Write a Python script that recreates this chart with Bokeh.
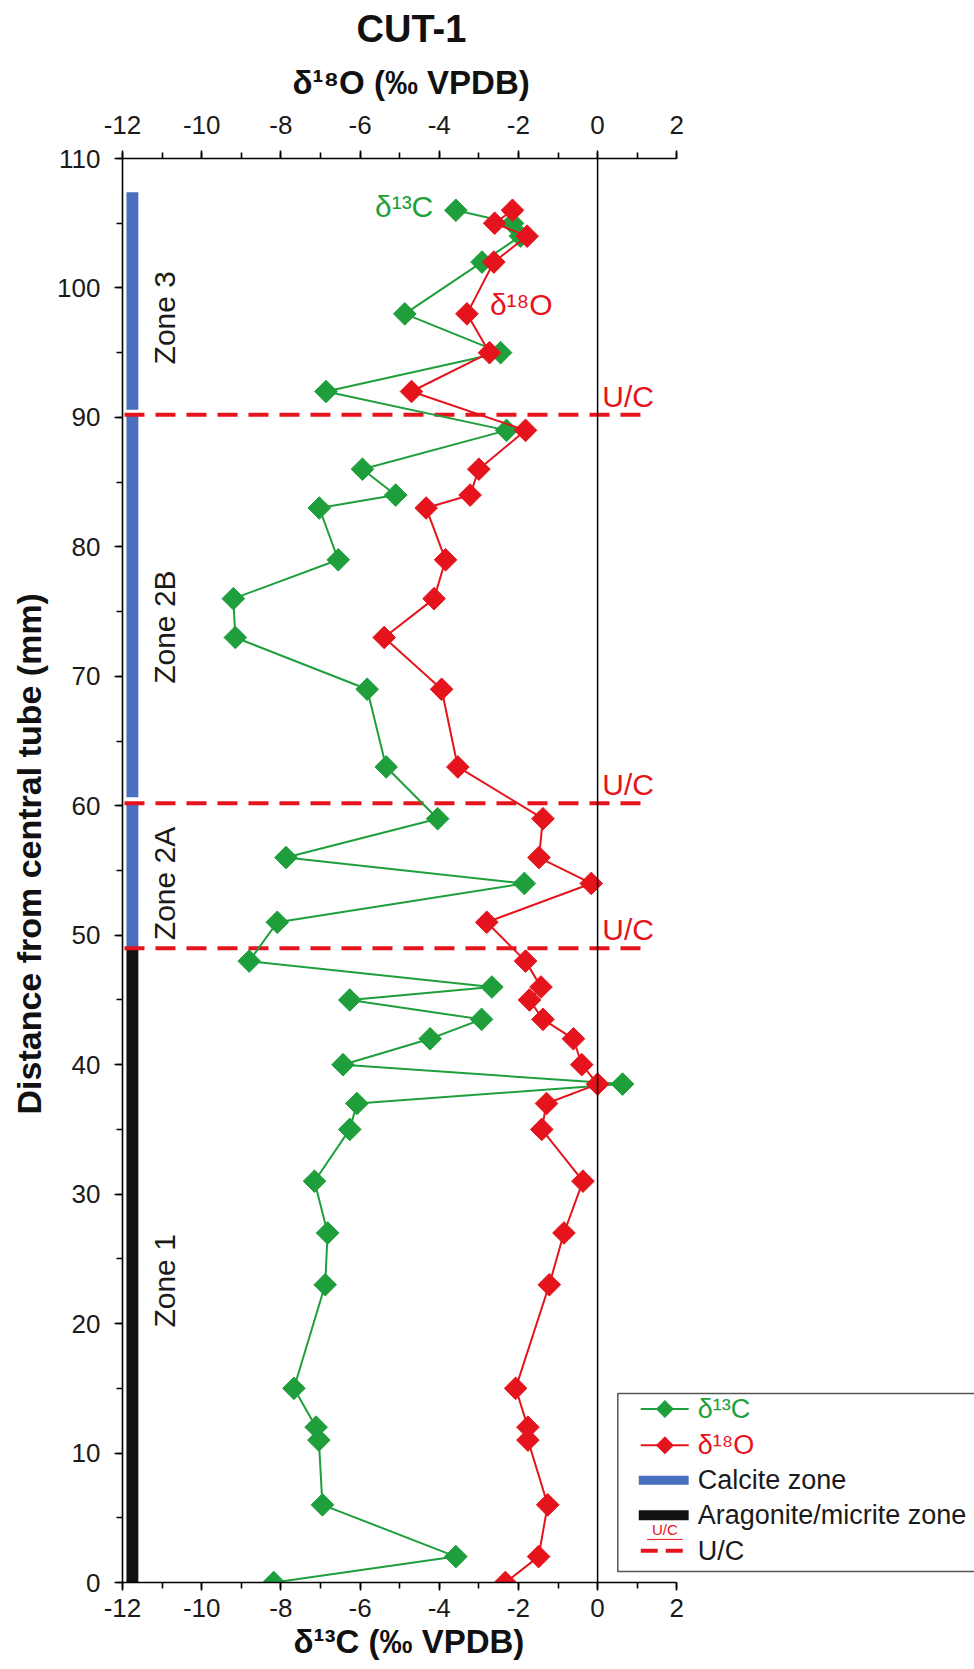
import numpy as np
from bokeh.plotting import figure
from bokeh.models import (ColumnDataSource, LinearAxis, Range1d, SingleIntervalTicker, Span,
                          Title, PrintfTickFormatter)
from bokeh.core.properties import value
from bokeh.embed import file_html
from bokeh.resources import INLINE

# ---------------- data ----------------
depth = [106, 105, 104, 102, 98, 95, 92, 89, 86, 84, 83, 79, 76, 73, 69, 63, 59, 56, 54, 51,
         48, 46, 45, 43.5, 42, 40, 38.5, 37, 35, 31, 27, 23, 15, 12, 11, 6, 2, 0]
d13c = [-3.58, -2.15, -1.95, -2.92, -4.87, -2.45, -6.86, -2.30, -5.94, -5.10,
        -7.03, -6.55, -9.20, -9.15, -5.82, -5.34, -4.04, -7.87, -1.85, -8.09,
        -8.80, -2.67, -6.26, -2.93, -4.23, -6.43, 0.63, -6.08, -6.26, -7.15,
        -6.82, -6.88, -7.67, -7.11, -7.04, -6.95, -3.58, -8.18]
d18o = [-2.15, -2.60, -1.78, -2.62, -3.30, -2.73, -4.70, -1.82, -3.00, -3.22,
        -4.33, -3.84, -4.13, -5.39, -3.94, -3.53, -1.38, -1.48, -0.16, -2.80,
        -1.82, -1.43, -1.72, -1.38, -0.61, -0.40, 0.00, -1.29, -1.41, -0.37,
        -0.85, -1.22, -2.07, -1.76, -1.76, -1.26, -1.49, -2.33]

# mineralogy bar segments (depth, mm)
bar_bottom = [0, 49.0, 60.65, 90.6]
bar_top = [49.0, 60.3, 90.3, 107.4]
bar_kind = ["aragonite", "calcite", "calcite", "calcite"]

# unconformities (depth, mm)
uc_depth = [90.2, 60.2, 49.0]

# zone names and their mid depths
zone_names = ["Zone 3", "Zone 2B", "Zone 2A", "Zone 1"]
zone_mid = [97.7, 73.8, 54.0, 23.3]

x_ticks_start, x_ticks_end = -12, 2
y_start, y_end = 0, 110

# ---------------- style ----------------
GREEN = "#1e9f3c"
RED = "#e5141c"
BLUE = "#4a6fbf"
BLACK = "#111111"
FONT = "Liberation Sans"
kind_color = {"aragonite": BLACK, "calcite": BLUE}

W, H = 974, 1669
X_END = 9.52

p = figure(width=W, height=H, x_range=Range1d(x_ticks_start, X_END), y_range=Range1d(y_start, y_end),
           output_backend="svg", toolbar_location=None, title=None,
           x_axis_location=None, y_axis_location=None,
           min_border_left=122, min_border_right=0, min_border_top=158, min_border_bottom=87)
p.outline_line_color = None
p.xgrid.grid_line_color = None
p.ygrid.grid_line_color = None


def style_axis(ax, standoff):
    ax.formatter = PrintfTickFormatter(format="%d")
    ax.axis_line_color = "black"
    ax.axis_line_width = 1.6
    ax.major_tick_line_color = "black"
    ax.major_tick_line_width = 1.6
    ax.minor_tick_line_color = "black"
    ax.minor_tick_line_width = 1.6
    ax.major_tick_in = 0
    ax.major_tick_out = 8
    ax.minor_tick_in = 0
    ax.minor_tick_out = 6
    ax.major_label_text_font = FONT
    ax.major_label_text_font_size = "26px"
    ax.major_label_text_color = "#1a1a1a"
    ax.major_label_standoff = standoff


xb = LinearAxis(ticker=SingleIntervalTicker(interval=2, num_minor_ticks=2),
                bounds=(x_ticks_start, x_ticks_end))
style_axis(xb, 8)
p.add_layout(xb, "below")

xt = LinearAxis(ticker=SingleIntervalTicker(interval=2, num_minor_ticks=2),
                bounds=(x_ticks_start, x_ticks_end))
style_axis(xt, 17)
p.add_layout(xt, "above")

yl = LinearAxis(ticker=SingleIntervalTicker(interval=10, num_minor_ticks=2))
style_axis(yl, 14)
p.add_layout(yl, "left")


def bold_title(text, size, offset, standoff):
    return Title(text=text, align="left", offset=offset, standoff=standoff,
                 text_font=FONT, text_font_size=size, text_font_style="bold",
                 text_color="#111111")


# titles (left-aligned with offsets so that they centre over the -12..2 axis span)
p.add_layout(bold_title("δ¹⁸O (‰ VPDB)", "33px", 170, 24), "above")
p.add_layout(bold_title("CUT-1", "38px", 234, 0), "above")
p.add_layout(bold_title("δ¹³C (‰ VPDB)", "33px", 171, 2), "below")
p.add_layout(bold_title("Distance from  central tube (mm)", "34px", 468, 13), "left")

# zero line
p.add_layout(Span(location=0, dimension="height", line_color="black", line_width=1.5))

# mineralogy bar
bars = ColumnDataSource(dict(bottom=bar_bottom, top=bar_top,
                             color=[kind_color[k] for k in bar_kind]))
p.quad(left=-11.9, right=-11.6, bottom="bottom", top="top", fill_color="color",
       line_color=None, source=bars)

# zone labels
p.text(x=-10.93, y=zone_mid, text=zone_names, angle=np.pi / 2, text_align="center",
       text_baseline="middle", text_font=value(FONT), text_font_size="30px", text_color="#1a1a1a")

# unconformities
p.segment(x0=-11.95, x1=1.1, y0=uc_depth, y1=uc_depth, line_color=RED, line_width=4,
          line_dash="20 11")
p.text(x=0.12, y=[d + 1.45 for d in uc_depth], text=["U/C"] * len(uc_depth), text_align="left",
       text_baseline="middle", text_font=value(FONT), text_font_size="30px", text_color=RED)

# series
src = ColumnDataSource(dict(depth=depth, c=d13c, o=d18o))
p.line(x="c", y="depth", source=src, line_color=GREEN, line_width=2)
p.scatter(x="c", y="depth", source=src, marker="square", angle=np.pi / 4, size=16,
          fill_color=GREEN, line_color=GREEN)
p.line(x="o", y="depth", source=src, line_color=RED, line_width=2)
p.scatter(x="o", y="depth", source=src, marker="square", angle=np.pi / 4, size=16,
          fill_color=RED, line_color=RED)

# in-plot series labels
p.text(x=-4.15, y=106.3, text=["δ¹³C"], text_align="right", text_baseline="middle",
       text_font=value(FONT), text_font_size="30px", text_color=GREEN)
p.text(x=-2.72, y=98.7, text=["δ¹⁸O"], text_align="left", text_baseline="middle",
       text_font=value(FONT), text_font_size="30px", text_color=RED)

# ---------------- legend (drawn in the plot area) ----------------
rows = [13.4, 10.6, 7.9, 5.2, 2.45]
gx0, gx1, gxc, tx = 1.09, 2.3, 1.7, 2.53
p.quad(left=0.51, right=X_END + 1, bottom=0.85, top=14.6, fill_color="white",
       line_color="#555555", line_width=1.5)
p.segment(x0=gx0, x1=gx1, y0=rows[0], y1=rows[0], line_color=GREEN, line_width=2)
p.scatter(x=gxc, y=rows[0], marker="square", angle=np.pi / 4, size=12, fill_color=GREEN,
          line_color=GREEN)
p.segment(x0=gx0, x1=gx1, y0=rows[1], y1=rows[1], line_color=RED, line_width=2)
p.scatter(x=gxc, y=rows[1], marker="square", angle=np.pi / 4, size=12, fill_color=RED,
          line_color=RED)
p.segment(x0=gx0 - 0.05, x1=gx1, y0=rows[2], y1=rows[2], line_color=BLUE, line_width=9,
          line_cap="butt")
p.segment(x0=gx0 - 0.05, x1=gx1, y0=rows[3], y1=rows[3], line_color=BLACK, line_width=10,
          line_cap="butt")
p.segment(x0=gx0, x1=gx1 + 0.05, y0=rows[4], y1=rows[4], line_color=RED, line_width=4,
          line_dash="17 8", line_cap="butt")
p.text(x=gxc, y=rows[4] + 0.95, text=["U/C"], text_align="center", text_baseline="bottom",
       text_font=value(FONT), text_font_size="15px", text_color=RED)
p.segment(x0=gxc - 0.45, x1=gxc + 0.45, y0=rows[4] + 0.88, y1=rows[4] + 0.88,
          line_color=RED, line_width=1)

leg_text = ["δ¹³C", "δ¹⁸O", "Calcite zone", "Aragonite/micrite zone", "U/C"]
leg_color = [GREEN, RED, "#1a1a1a", "#1a1a1a", "#1a1a1a"]
p.text(x=tx, y=rows, text=leg_text, text_color=leg_color, text_align="left",
       text_baseline="middle", text_font=value(FONT), text_font_size="27px")

open("out.html", "w").write(file_html(p, INLINE))
